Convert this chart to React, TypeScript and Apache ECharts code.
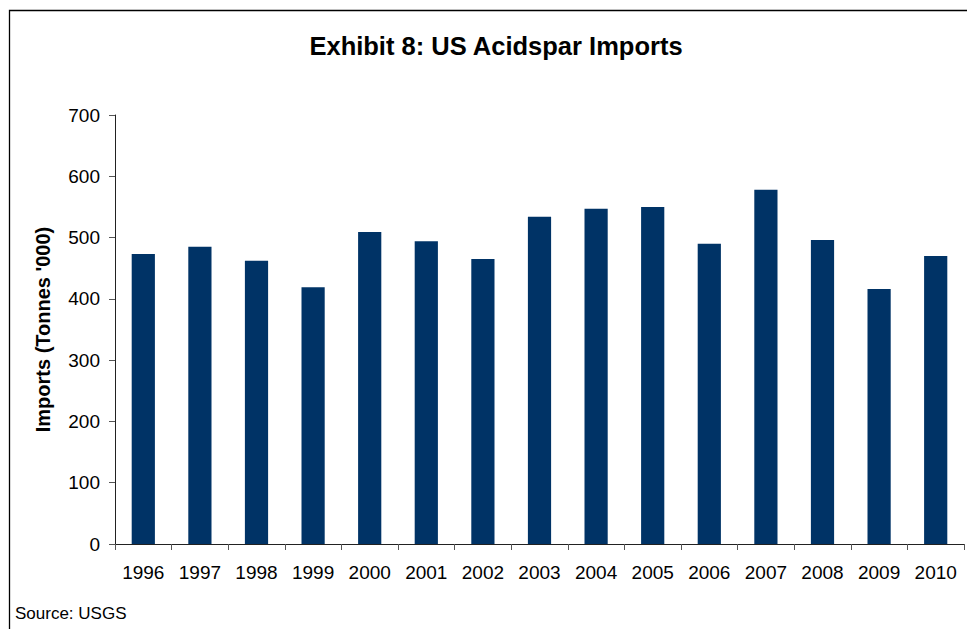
import React, { useEffect, useRef } from "react";
import * as echarts from "echarts";

const years = ["1996", "1997", "1998", "1999", "2000", "2001", "2002", "2003", "2004", "2005", "2006", "2007", "2008", "2009", "2010"];
const imports = [473, 485, 462, 419, 509, 494, 465, 534, 547, 550, 490, 578, 496, 416, 470];
const yTicks = { min: 0, max: 700, interval: 100 };

const titleText = "Exhibit 8: US Acidspar Imports";
const yAxisTitle = "Imports (Tonnes '000)";
const sourceText = "Source: USGS";

const FONT = "'Liberation Sans', Arial, sans-serif";

export default function App() {
  const ref = useRef<HTMLDivElement>(null);

  useEffect(() => {
    if (!ref.current) return;
    const chart = echarts.init(ref.current, null, { renderer: "svg" });
    chart.setOption({
      animation: false,
      backgroundColor: "#ffffff",
      textStyle: { fontFamily: FONT, color: "#000" },
      title: {
        text: titleText,
        left: 491,
        top: 28,
        textAlign: "center",
        textStyle: { fontFamily: FONT, fontSize: 25.5, fontWeight: "bold", color: "#000" },
      },
      grid: { left: 115, right: 4, top: 115, bottom: 85, containLabel: false },
      xAxis: {
        type: "category",
        data: years,
        axisLine: { show: true, lineStyle: { color: "#222", width: 1 } },
        axisTick: { show: true, alignWithLabel: false, length: 6, lineStyle: { color: "#555" } },
        axisLabel: { fontFamily: FONT, fontSize: 19, color: "#000", margin: 19, interval: 0 },
      },
      yAxis: {
        type: "value",
        min: yTicks.min,
        max: yTicks.max,
        interval: yTicks.interval,
        name: yAxisTitle,
        nameLocation: "middle",
        nameRotate: 90,
        nameGap: 62,
        nameTextStyle: { fontFamily: FONT, fontSize: 20, fontWeight: "bold", color: "#000" },
        axisLine: { show: true, lineStyle: { color: "#222", width: 1 } },
        axisTick: { show: true, length: 6, lineStyle: { color: "#555" } },
        axisLabel: { fontFamily: FONT, fontSize: 19, color: "#000", margin: 15 },
        splitLine: { show: false },
      },
      series: [
        {
          type: "bar",
          data: imports,
          barWidth: "41%",
          itemStyle: { color: "#003366" },
        },
      ],
      graphic: [
        {
          type: "polyline",
          shape: { points: [[9.5, 629], [9.5, 10.5], [967, 10.5]] },
          style: { stroke: "#000", lineWidth: 1.3, fill: "none" },
        },
        {
          type: "text",
          left: 15,
          top: 605,
          style: { text: sourceText, fontFamily: FONT, fontSize: 17, fill: "#000" },
        },
      ],
    });
    return () => chart.dispose();
  }, []);

  return (
    <div
      ref={ref}
      style={{ position: "fixed", left: 0, top: 0, width: 968, height: 629, background: "#fff" }}
    />
  );
}
